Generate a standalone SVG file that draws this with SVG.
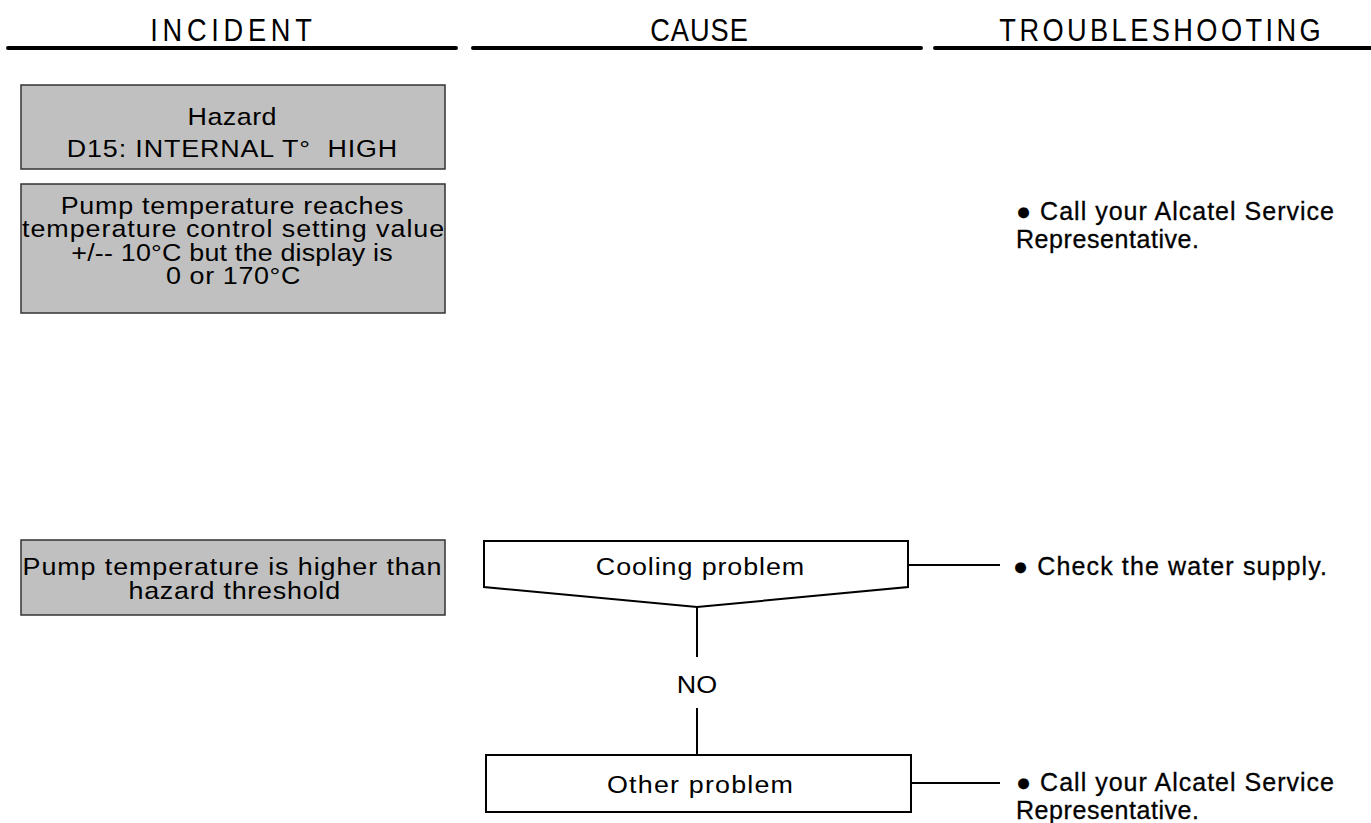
<svg xmlns="http://www.w3.org/2000/svg" width="1371" height="823" viewBox="0 0 1371 823">
<style>
.hdr{font-family:"Liberation Sans",Arial,sans-serif;font-size:32px;fill:#000;text-anchor:middle}
.rule{stroke:#000;stroke-width:4;stroke-linecap:round;fill:none}
.gbox{fill:#c0c0c0;stroke:#333;stroke-width:1.5}
.wbox{fill:#fff;stroke:#000;stroke-width:2}
.bt{font-family:"Liberation Sans",Arial,sans-serif;font-size:24px;fill:#000;text-anchor:middle;white-space:pre}
.rt{font-family:"Liberation Sans",Arial,sans-serif;font-size:25px;fill:#000;stroke:#000;stroke-width:0.3}
.conn{stroke:#000;stroke-width:2;fill:none}
</style>
<g id="header">
  <line class="rule" x1="8" y1="48" x2="456" y2="48"/>
  <line class="rule" x1="473" y1="48" x2="921" y2="48"/>
  <line class="rule" x1="935" y1="48" x2="1375" y2="48"/>
  <text class="hdr" transform="translate(231,41) scale(0.85,1)" textLength="190" lengthAdjust="spacing">INCIDENT</text>
  <text class="hdr" transform="translate(699,41) scale(0.85,1)" textLength="115" lengthAdjust="spacing">CAUSE</text>
  <text class="hdr" transform="translate(1160,41) scale(0.85,1)" textLength="378" lengthAdjust="spacing">TROUBLESHOOTING</text>
</g>
<g id="incident-hazard">
  <rect class="gbox" x="21" y="85" width="424" height="84"/>
  <text class="bt" transform="translate(232,0) scale(1.12,1)" y="125"><tspan x="0" textLength="79.5" lengthAdjust="spacing">Hazard</tspan><tspan x="0" dy="32" textLength="295" lengthAdjust="spacing">D15: INTERNAL T°  HIGH</tspan></text>
</g>
<g id="incident-display">
  <rect class="gbox" x="21" y="184" width="424" height="129"/>
  <text class="bt" transform="translate(232,0) scale(1.12,1)" y="214"><tspan x="0" textLength="306" lengthAdjust="spacing">Pump temperature reaches</tspan><tspan x="1" dy="23.5" textLength="377" lengthAdjust="spacing">temperature control setting value</tspan><tspan x="0" dy="23.5" textLength="287" lengthAdjust="spacing">+/-- 10°C but the display is</tspan><tspan x="1" dy="23.5" textLength="120" lengthAdjust="spacing">0 or 170°C</tspan></text>
</g>
<g id="action-call-1">
  <text class="rt" x="1016" y="220"><tspan x="1016" textLength="318" lengthAdjust="spacing">● Call your Alcatel Service</tspan><tspan x="1016" dy="28" textLength="183" lengthAdjust="spacing">Representative.</tspan></text>
</g>
<g id="incident-threshold">
  <rect class="gbox" x="21" y="540" width="424" height="75"/>
  <text class="bt" transform="translate(232,0) scale(1.12,1)" y="575"><tspan x="0" textLength="374" lengthAdjust="spacing">Pump temperature is higher than</tspan><tspan x="2" dy="24" textLength="189" lengthAdjust="spacing">hazard threshold</tspan></text>
</g>
<g id="cause-cooling">
  <polygon class="wbox" points="484,541 908,541 908,587 697,607 484,587"/>
  <text class="bt" transform="translate(700,0) scale(1.12,1)" x="0" y="575" textLength="186" lengthAdjust="spacing">Cooling problem</text>
</g>
<g id="cause-other">
  <rect class="wbox" x="486" y="755" width="425" height="57"/>
  <text class="bt" transform="translate(700,0) scale(1.12,1)" x="0" y="793" textLength="166" lengthAdjust="spacing">Other problem</text>
</g>
<g id="action-water">
  <text class="rt" x="1013" y="575" textLength="314" lengthAdjust="spacing">● Check the water supply.</text>
</g>
<g id="action-call-2">
  <text class="rt" x="1016" y="791"><tspan x="1016" textLength="318" lengthAdjust="spacing">● Call your Alcatel Service</tspan><tspan x="1016" dy="28" textLength="183" lengthAdjust="spacing">Representative.</tspan></text>
</g>
<g id="connectors">
  <line class="conn" x1="908" y1="565" x2="1000" y2="565"/>
  <line class="conn" x1="911" y1="783" x2="1000" y2="783"/>
  <line class="conn" x1="697" y1="607" x2="697" y2="657"/>
  <line class="conn" x1="697" y1="708" x2="697" y2="755"/>
  <text class="bt" transform="translate(697,0) scale(1.12,1)" x="0" y="693" textLength="36" lengthAdjust="spacing">NO</text>
</g>
</svg>
